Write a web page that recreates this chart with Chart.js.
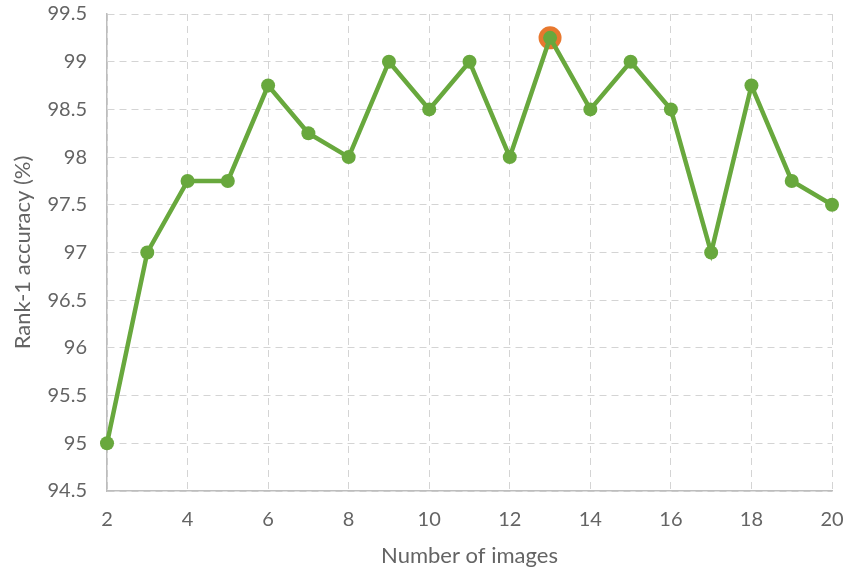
<!DOCTYPE html>
<html>
<head>
<meta charset="utf-8">
<script src="https://cdn.jsdelivr.net/npm/chart.js@4"></script>
<style>
  html, body { margin: 0; padding: 0; background: #fff; }
  #wrap { width: 847px; height: 575px; }
</style>
</head>
<body>
<div id="wrap"><canvas id="chart" width="847" height="575"></canvas></div>
<script>
// ---- data ----
const numImages = [2, 3, 4, 5, 6, 7, 8, 9, 10, 11, 12, 13, 14, 15, 16, 17, 18, 19, 20];
const rank1Acc = [95, 97, 97.75, 97.75, 98.75, 98.25, 98, 99, 98.5, 99, 98, 99.25, 98.5, 99, 98.5, 97, 98.75, 97.75, 97.5];
const bestImages = [13];
const yTicks = [94.5, 95, 95.5, 96, 96.5, 97, 97.5, 98, 98.5, 99, 99.5];

const GREEN = '#68a83d';
const ORANGE = '#e8782e';
const TEXT = '#646464';
const FONT = "Lato, 'Open Sans', sans-serif";

const mainPoints = numImages.map((n, i) => ({ x: n, y: rank1Acc[i] }));
const bestPoints = bestImages.map(n => ({ x: n, y: rank1Acc[numImages.indexOf(n)] }));

new Chart(document.getElementById('chart').getContext('2d'), {
    type: 'line',
    data: {
        datasets: [
            {
                label: 'Rank-1',
                data: mainPoints,
                borderColor: GREEN,
                backgroundColor: GREEN,
                borderWidth: 4.5,
                pointRadius: 7,
                pointBorderWidth: 0,
                pointBackgroundColor: GREEN,
                tension: 0,
                clip: false,
                order: 1
            },
            {
                label: 'best',
                data: bestPoints,
                showLine: false,
                pointRadius: 11.5,
                pointBorderWidth: 0,
                pointBackgroundColor: ORANGE,
                clip: false,
                order: 2
            }
        ]
    },
    options: {
        responsive: false,
        animation: false,
        layout: { padding: { left: 0, right: 15, top: 14, bottom: 0 } },
        plugins: { legend: { display: false }, tooltip: { enabled: false } },
        scales: {
            x: {
                type: 'linear',
                min: 2,
                max: 20,
                afterFit: s => { s.height = 84; s.paddingLeft = 0; s.paddingRight = 0; },
                ticks: { stepSize: 2, color: TEXT, font: { family: FONT, size: 20 }, padding: 17 },
                grid: { color: '#d4d4d4', lineWidth: 1, drawTicks: false },
                border: { color: '#bdbdbd', width: 1.5, dash: [7, 5] },
                title: { display: true, text: 'Number of images', color: TEXT, font: { family: FONT, size: 22 }, padding: { top: 4, bottom: 6 } }
            },
            y: {
                min: 94.5,
                max: 99.5,
                afterFit: s => { s.width = 107; s.paddingTop = 0; s.paddingBottom = 0; },
                afterBuildTicks: s => { s.ticks = yTicks.map(v => ({ value: v })); },
                ticks: { color: TEXT, font: { family: FONT, size: 20 }, padding: 20, callback: v => String(v) },
                grid: { color: '#d4d4d4', lineWidth: 1, drawTicks: false },
                border: { color: '#bdbdbd', width: 1.5, dash: [7, 5] },
                title: { display: true, text: 'Rank-1 accuracy (%)', color: TEXT, font: { family: FONT, size: 22 }, padding: { top: 10, bottom: 0 } }
            }
        }
    }
});
</script>
</body>
</html>
